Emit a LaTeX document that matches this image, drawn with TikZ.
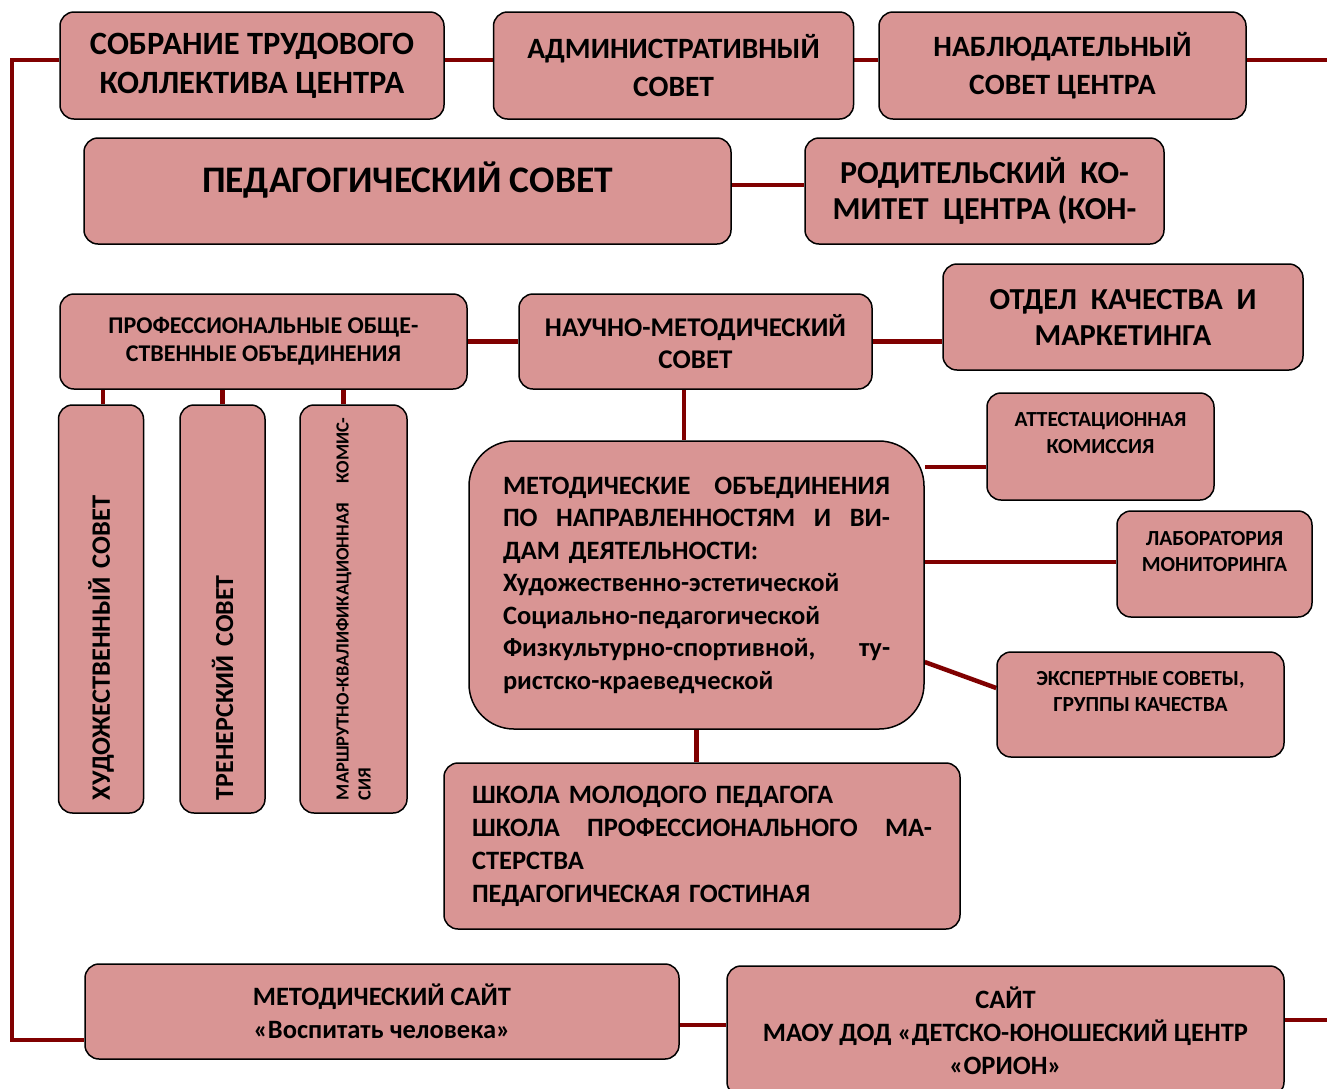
\documentclass[tikz,border=0pt]{standalone}
\usepackage{fontspec}
\setmainfont{Carlito}
\usepackage{xcolor}
\usepackage{tikz}
\usetikzlibrary{positioning, backgrounds}
\definecolor{boxfill}{HTML}{D99594}
\definecolor{linkred}{HTML}{800000}

\begin{document}
\begin{tikzpicture}[
    x = 1pt, y = -1pt,
    box/.style = {
      rectangle, draw, line width = 1.5pt, rounded corners = 14pt,
      fill = boxfill, inner sep = 0pt, align = center
    },
    bigbox/.style = {
      box, rounded corners = 45pt
    },
    vertbox/.style = {
      box, rotate = 90, align = left
    },
    fsz/.style 2 args = {
      font = \fontsize{#1}{#2}\selectfont\bfseries
    },
    link/.style = {
      draw = linkred, line width = 4.5pt
    },
    ]
    \useasboundingbox (0,0) rectangle (1327,1088);
    \clip (0,0) rectangle (1327,1088);

    % top row
    \node  [box, fsz = {32.5}{39}, minimum width = 384pt, minimum height = 107pt]
      (sobranie)  at (252,65.5)  {СОБРАНИЕ ТРУДОВОГО\\КОЛЛЕКТИВА ЦЕНТРА};
    \node  [box, fsz = {29.5}{38}, minimum width = 360pt, minimum height = 107pt]
      (admsovet)  [right = 48pt of sobranie]  {АДМИНИСТРАТИВНЫЙ\\СОВЕТ};
    \node  [box, fsz = {29.5}{38}, minimum width = 367pt, minimum height = 107pt]
      (nabsovet)  [right = 24pt of admsovet]  {НАБЛЮДАТЕЛЬНЫЙ\\СОВЕТ ЦЕНТРА};

    % second row
    \node  [box, fsz = {37.5}{28}, minimum width = 647pt, minimum height = 106pt]
      (pedsovet)  at (407.5,191)  {ПЕДАГОГИЧЕСКИЙ СОВЕТ\\\rule{0pt}{1pt}};
    \node  [box, fsz = {32}{36}, minimum width = 359pt, minimum height = 106pt]
      (roditkom)  at (984.5,191)  {РОДИТЕЛЬСКИЙ\ \ КО-\\МИТЕТ\ \ ЦЕНТРА (КОН-};

    % third row
    \node  [box, fsz = {24}{28}, minimum width = 407pt, minimum height = 95pt]
      (profob)  at (263.5,341.5)  {ПРОФЕССИОНАЛЬНЫЕ ОБЩЕ-\\СТВЕННЫЕ ОБЪЕДИНЕНИЯ};
    \node  [box, fsz = {27}{32}, minimum width = 353pt, minimum height = 95pt]
      (nauchsovet)  at (695.5,341.5)  {НАУЧНО-МЕТОДИЧЕСКИЙ\\СОВЕТ};
    \node  [box, fsz = {30.5}{36}, minimum width = 360pt, minimum height = 106pt]
      (otdel)  at (1123,317)  {ОТДЕЛ\ \ КАЧЕСТВА\ \ И\\МАРКЕТИНГА};

    % vertical boxes
    \node  [vertbox, fsz = {26.5}{30}, minimum width = 408pt, minimum height = 85pt,
      text width = 382pt]  (hudsovet)  at (101,609)  {ХУДОЖЕСТВЕННЫЙ СОВЕТ};
    \node  [vertbox, fsz = {26}{30}, minimum width = 408pt, minimum height = 85pt,
      text width = 382pt]  (trensovet)  at (222.5,609)  {ТРЕНЕРСКИЙ СОВЕТ};
    \node  [vertbox, fsz = {18.5}{22}, minimum width = 408pt, minimum height = 107pt,
      text width = 382pt]  (marshkom)  at (353.5,609)
      {МАРШРУТНО-КВАЛИФИКАЦИОННАЯ\hfill КОМИС-\\СИЯ};

    % methodical units
    \node  [bigbox, fsz = {26.5}{32.5}, minimum width = 455pt, minimum height = 288pt,
      text width = 387pt, align = left]  (metob)  at (696.5,585)
      {МЕТОДИЧЕСКИЕ\hfill ОБЪЕДИНЕНИЯ\\
       ПО\hfill НАПРАВЛЕННОСТЯМ\hfill И\hfill ВИ-\\
       ДАМ ДЕЯТЕЛЬНОСТИ:\\
       Художественно-эстетической\\
       Социально-педагогической\\
       Физкультурно-спортивной,\hfill ту-\\
       ристско-краеведческой};
    \node  [box, fsz = {21.5}{27}, minimum width = 227pt, minimum height = 107pt]
      (attkom)  at (1100.5,446.5)  {АТТЕСТАЦИОННАЯ\\КОМИССИЯ\\\rule{0pt}{1pt}};
    \node  [box, fsz = {21.5}{26}, minimum width = 195pt, minimum height = 106pt]
      (labmon)  at (1214.5,564)  {ЛАБОРАТОРИЯ\\МОНИТОРИНГА\\\rule{0pt}{1pt}};
    \node  [box, fsz = {21.5}{26}, minimum width = 287pt, minimum height = 105pt]
      (expsov)  at (1140.5,704.5)  {ЭКСПЕРТНЫЕ СОВЕТЫ,\\ГРУППЫ КАЧЕСТВА\\\rule{0pt}{1pt}};
    \node  [box, fsz = {26.5}{33}, minimum width = 516pt, minimum height = 166pt,
      text width = 460pt, align = left]  (shkola)  at (702,846)
      {ШКОЛА МОЛОДОГО ПЕДАГОГА\\
       ШКОЛА\hfill ПРОФЕССИОНАЛЬНОГО\hfill МА-\\
       СТЕРСТВА\\
       ПЕДАГОГИЧЕСКАЯ ГОСТИНАЯ};

    % bottom row
    \node  [box, fsz = {26.5}{33}, minimum width = 594pt, minimum height = 95pt]
      (metsite)  at (382,1011.5)  {МЕТОДИЧЕСКИЙ САЙТ\\«Воспитать человека»};
    \node  [box, fsz = {26.5}{33}, minimum width = 557pt, minimum height = 130pt]
      (orionsite)  at (1005.5,1031)
      {САЙТ\\МАОУ ДОД «ДЕТСКО-ЮНОШЕСКИЙ ЦЕНТР\\«ОРИОН»};

    \coordinate  (railtop)  at (12,60);
    \coordinate  (railbot)  at (12,1040);
    \coordinate  (rightend)  at (1327,60);
    \coordinate  (rightbot)  at (1327,1020);

    % draw connectors behind the boxes
    \begin{scope}[on background layer]
    \draw  [link]  (sobranie.west |- railtop)  --  (railtop)  --  (railbot)
      --  (railbot -| metsite.west);
    \draw  [link]  (sobranie.east |- railtop)  --  (admsovet.west |- railtop);
    \draw  [link]  (admsovet.east |- railtop)  --  (nabsovet.west |- railtop);
    \draw  [link]  (nabsovet.east |- railtop)  --  (rightend);
    \draw  [link]  ([yshift=6pt]pedsovet.east)  --  ([yshift=6pt]roditkom.west);
    \draw  [link]  (profob.east)  --  (nauchsovet.west);
    \draw  [link]  (nauchsovet.east)  --  (nauchsovet.east -| otdel.west);
    \foreach \v/\dx in {hudsovet/2, trensovet/0, marshkom/-10}
    \draw  [link]  ([xshift=\dx pt]\v.east)  --  ([xshift=\dx pt]\v.east |- profob.south);
    \draw  [link]  ([xshift=-11.5pt]nauchsovet.south)
      --  ([xshift=-11.5pt]nauchsovet.south |- metob.north);
    \draw  [link]  ([yshift=-20.5pt]attkom.west)  --  ([yshift=-20.5pt]attkom.west -| metob.east);
    \draw  [link]  ([yshift=2pt]labmon.west)  --  ([yshift=2pt]labmon.west -| metob.east);
    \draw  [link]  ([yshift=-77pt]metob.east)  --  ([yshift=16.5pt]expsov.west);
    \draw  [link]  (metob.south)  --  (metob.south |- shkola.north);
    \draw  [link]  ([yshift=-13.5pt]metsite.east)  --  ([yshift=-13.5pt]metsite.east -| orionsite.west);
    \draw  [link]  ([yshift=11pt]orionsite.east)  --  (rightbot);
    \end{scope}

\end{tikzpicture}
\end{document}
